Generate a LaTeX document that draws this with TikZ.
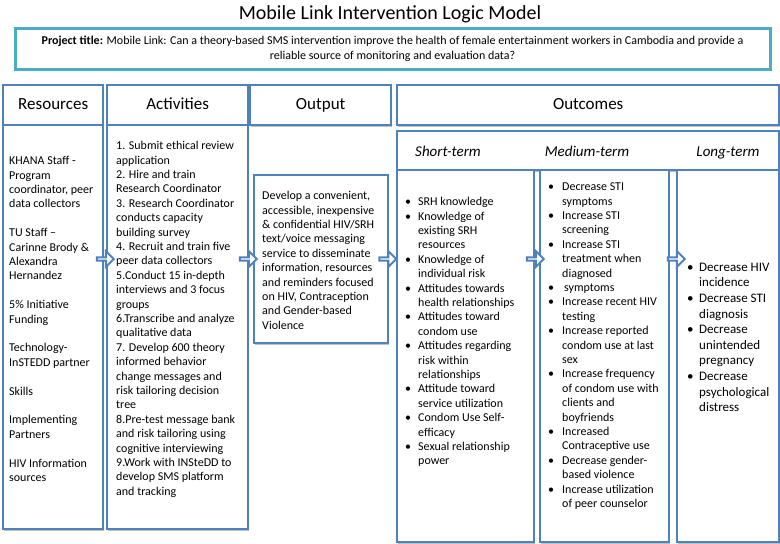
\documentclass[tikz,border=0pt]{standalone}
\usepackage{fontspec}
\setmainfont{Carlito}
\usetikzlibrary{shapes.arrows,shadows}
\definecolor{bblue}{RGB}{79,129,189}
\definecolor{tealb}{RGB}{75,172,198}
\newcommand\mybul[1]{\makebox[#1][l]{•}}
\newcommand\mycnt[1]{\makebox[#1]{}}
\begin{document}
\begin{tikzpicture}[x=1pt,y=-1pt,
  lmbox/.style={draw=bblue, line width=2.4pt, fill=white, inner sep=0pt, anchor=north west,
    drop shadow={shadow xshift=1pt, shadow yshift=-1.5pt, opacity=0.25, fill=black}},
  headtxt/.style={font=\fontsize{17}{20}\selectfont, text height=12pt, text depth=3.5pt},
  subtxt/.style={font=\fontsize{15}{18}\selectfont\itshape, inner sep=0pt, text height=10.5pt, text depth=3pt},
  bodytxt/.style={font=\fontsize{12}{14.4}\selectfont, align=left, anchor=north west, inner sep=0pt},
  longtxt/.style={font=\fontsize{13}{15.6}\selectfont, align=left, anchor=north west, inner sep=0pt},
  blockarrow/.style={single arrow, draw=bblue, fill=white, line width=2pt, minimum height=17pt,
    minimum width=16pt, single arrow head extend=4pt, inner sep=0pt}]
\useasboundingbox (0,0) rectangle (780,544);

% title
\node[font=\fontsize{20}{24}\selectfont] (title) at (390,14) {Mobile Link Intervention Logic Model};
\node[draw=tealb, line width=3pt, fill=white, minimum width=755pt, minimum height=41pt, inner sep=0pt,
  align=center, font=\fontsize{12}{15}\selectfont,
  drop shadow={shadow xshift=1pt, shadow yshift=-1.5pt, opacity=0.2, fill=black}] (proj) at (392.5,48.5)
  {\textbf{Project title:} Mobile Link: Can a theory-based SMS intervention improve the health of female entertainment workers in Cambodia and provide a\\ reliable source of monitoring and evaluation data?};

% headers
\node[lmbox, headtxt, minimum width=100pt, minimum height=40pt] (reshead) at (2,84) {Resources};
\node[lmbox, headtxt, minimum width=141pt, minimum height=40pt] (acthead) at (106,84) {Activities};
\node[lmbox, headtxt, minimum width=141pt, minimum height=40pt] (outhead) at (249,84) {Output};
\node[lmbox, headtxt, minimum width=382pt, minimum height=40pt] (ochead) at (396,84) {Outcomes};

% bodies
\node[lmbox, minimum width=100pt, minimum height=404pt] (resbody) at (2,124) {};
\node[lmbox, minimum width=141pt, minimum height=404pt] (actbody) at (106,124) {};
\node[lmbox, minimum width=134pt, minimum height=168pt] (outbody) at (253,174) {};
\node[lmbox, minimum width=382pt, minimum height=39pt] (subhead) at (396,130) {};
\node[lmbox, minimum width=137pt, minimum height=372pt] (shortbody) at (396,169) {};
\node[lmbox, minimum width=129pt, minimum height=372pt] (medbody) at (539,169) {};
\node[lmbox, minimum width=102pt, minimum height=372pt] (longbody) at (676,169) {};

% sub headers
\node[subtxt] (shortlbl) at (448,152.5) {Short-term};
\node[subtxt] (medlbl) at (587,152.5) {Medium-term};
\node[subtxt] (longlbl) at (728,152.5) {Long-term};

% texts
\node[bodytxt] (restext) at (9,154.4) {\strut KHANA Staff -\\ Program\\ coordinator, peer\\ data collectors\\[14.4pt]
TU Staff –\\ Carinne Brody \&\\ Alexandra\\ Hernandez\\[14.4pt]
5\% Initiative\\ Funding\\[14.4pt]
Technology-\\ InSTEDD partner\\[14.4pt]
Skills\\[14.4pt]
Implementing\\ Partners\\[14.4pt]
HIV Information\\ sources};

\node[bodytxt] (acttext) at (116,139.4) {\strut 1. Submit ethical review\\ application\\ 2. Hire and train\\ Research Coordinator\\
3. Research Coordinator\\ conducts capacity\\ building survey\\ 4. Recruit and train five\\ peer data collectors\\
5.Conduct 15 in-depth\\ interviews and 3 focus\\ groups\\ 6.Transcribe and analyze\\ qualitative data\\
7. Develop 600 theory\\ informed behavior\\ change messages and\\ risk tailoring decision\\ tree\\
8.Pre-test message bank\\ and risk tailoring using\\ cognitive interviewing\\ 9.Work with INSteDD to\\
develop SMS platform\\ and tracking};

\node[bodytxt] (outtext) at (262,189.4) {\strut Develop a convenient,\\ accessible, inexpensive\\ \& confidential HIV/SRH\\
text/voice messaging\\ service to disseminate\\ information, resources\\ and reminders focused\\
on HIV, Contraception\\ and Gender-based\\ Violence};

\node[bodytxt] (shorttext) at (405,195.4) {\strut\mybul{13pt}SRH knowledge\\
\mybul{13pt}Knowledge of\\ \mycnt{13pt}existing SRH\\ \mycnt{13pt}resources\\
\mybul{13pt}Knowledge of\\ \mycnt{13pt}individual risk\\
\mybul{13pt}Attitudes towards\\ \mycnt{13pt}health relationships\\
\mybul{13pt}Attitudes toward\\ \mycnt{13pt}condom use\\
\mybul{13pt}Attitudes regarding\\ \mycnt{13pt}risk within\\ \mycnt{13pt}relationships\\
\mybul{13pt}Attitude toward\\ \mycnt{13pt}service utilization\\
\mybul{13pt}Condom Use Self-\\ \mycnt{13pt}efficacy\\
\mybul{13pt}Sexual relationship\\ \mycnt{13pt}power};

\node[bodytxt] (medtext) at (548,180.4) {\strut\mybul{14pt}Decrease STI\\ \mycnt{14pt}symptoms\\
\mybul{14pt}Increase STI\\ \mycnt{14pt}screening\\
\mybul{14pt}Increase STI\\ \mycnt{14pt}treatment when\\ \mycnt{14pt}diagnosed\\
\mybul{16pt}symptoms\\
\mybul{14pt}Increase recent HIV\\ \mycnt{14pt}testing\\
\mybul{14pt}Increase reported\\ \mycnt{14pt}condom use at last\\ \mycnt{14pt}sex\\
\mybul{14pt}Increase frequency\\ \mycnt{14pt}of condom use with\\ \mycnt{14pt}clients and\\ \mycnt{14pt}boyfriends\\
\mybul{14pt}Increased\\ \mycnt{14pt}Contraceptive use\\
\mybul{14pt}Decrease gender-\\ \mycnt{14pt}based violence\\
\mybul{14pt}Increase utilization\\ \mycnt{14pt}of peer counselor};

\node[longtxt] (longtext) at (687,260.1) {\strut\mybul{12pt}Decrease HIV\\ \mycnt{12pt}incidence\\
\mybul{12pt}Decrease STI\\ \mycnt{12pt}diagnosis\\
\mybul{12pt}Decrease\\ \mycnt{12pt}unintended\\ \mycnt{12pt}pregnancy\\
\mybul{12pt}Decrease\\ \mycnt{12pt}psychological\\ \mycnt{12pt}distress};

% block arrows
\node[blockarrow] (a1) at (104.5,259) {};
\node[blockarrow] (a2) at (247.5,259) {};
\node[blockarrow] (a3) at (387,259) {};
\node[blockarrow] (a4) at (534.5,259) {};
\node[blockarrow] (a5) at (675.5,259) {};
\end{tikzpicture}
\end{document}
